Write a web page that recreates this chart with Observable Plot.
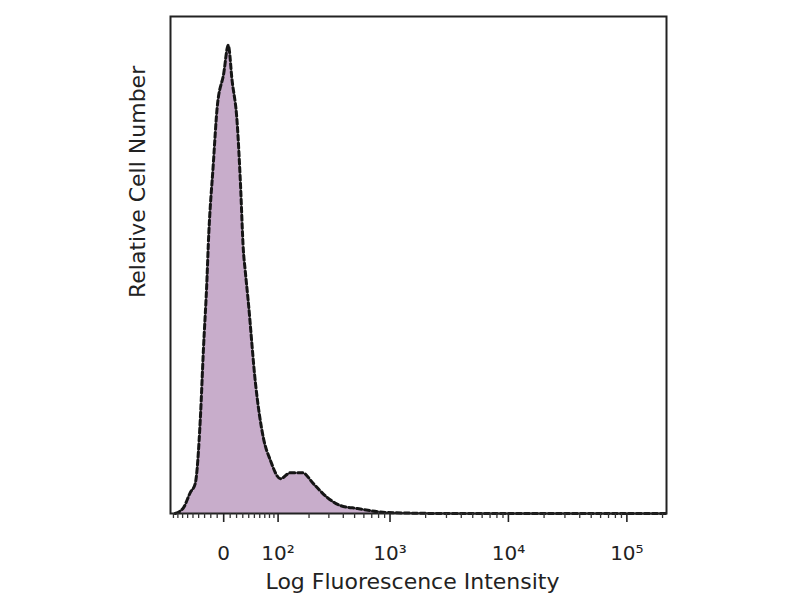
<!DOCTYPE html>
<html><head><meta charset="utf-8">
<script src="https://cdn.jsdelivr.net/npm/d3@7"></script>
<script src="https://cdn.jsdelivr.net/npm/@observablehq/plot@0.6"></script>
<style>body{margin:0;background:#fff}</style>
</head><body><div id="chart"></div>
<script>
// fluorescence intensity (data units) and relative cell count (% of axis)
const intensity = [-86,-68,-55,-46,-37,-32,-26,-24,-16,-10,0,7,13,21,26,31,34,39,52,67,82,106,134,174,219,291,378,529,953,3250,216000];
const cellCount = [0,1.2,4.2,6.0,19.3,32.8,47.5,54.0,70.4,81.7,88.5,94.2,87.1,78.5,67.0,52.9,48.9,42.9,26.2,15.3,10.7,7.0,8.2,8.2,6.0,3.2,1.6,1.0,0.2,0,0];
const majorTicks = [0, 100, 1000, 10000, 100000];
const tickLabels = ["0", "10²", "10³", "10⁴", "10⁵"];
const minorTicks = [-90,-80,-70,-60,-50,-40,-30,-20,-10,10,20,30,40,50,60,70,80,90,
  200,300,400,500,600,700,800,900,2000,3000,4000,5000,6000,7000,8000,9000,
  20000,30000,40000,50000,60000,70000,80000,90000,200000];
const xDomain = [-97, 216000];
const xLabel = "Log Fluorescence Intensity";
const yLabel = "Relative Cell Number";

// biexponential-like display transform
const A = 79;
const T = v => Math.asinh(v / A) / Math.LN10;

const data = intensity.map((v, i) => ({v, n: cellCount[i]}));
const fmt = d => { const k = majorTicks.findIndex(m => Math.abs(T(m) - d) < 1e-9); return k >= 0 ? tickLabels[k] : ""; };

const chart = Plot.plot({
  width: 800, height: 600,
  marginLeft: 170, marginRight: 134, marginTop: 16, marginBottom: 87,
  style: {fontFamily: "DejaVu Sans", color: "#222", background: "#fff"},
  x: {domain: xDomain.map(T)},
  y: {domain: [0, 100], axis: null},
  marks: [
    Plot.areaY(data, {x: d => T(d.v), y: "n", fill: "#c8adcb", curve: "monotone-x"}),
    Plot.lineY(data, {x: d => T(d.v), y: "n", stroke: "#151515", strokeWidth: 3, strokeDasharray: "5,3", curve: "monotone-x"}),
    Plot.frame({stroke: "#222", strokeWidth: 2}),
    Plot.axisX({ticks: minorTicks.map(T), tickSize: 5, tickFormat: () => "", label: null, stroke: "#333", strokeWidth: 1.3}),
    Plot.axisX({ticks: majorTicks.map(T), tickSize: 9, tickPadding: 23, fontSize: 20, tickFormat: fmt, label: null, stroke: "#222", strokeWidth: 1.6}),
    Plot.text([xLabel], {frameAnchor: "bottom", dx: -6, dy: 75, fontSize: 22, fill: "#222"}),
    Plot.text([yLabel], {frameAnchor: "left", rotate: -90, dx: -33, dy: 33, fontSize: 22, fill: "#222"})
  ]
});
document.getElementById("chart").append(chart);
</script>
</body></html>
